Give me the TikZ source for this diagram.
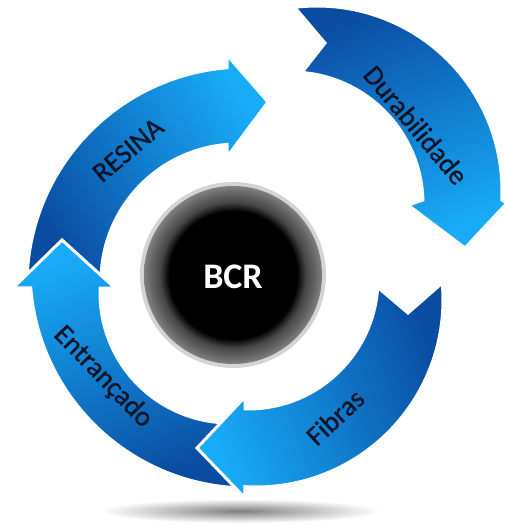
\documentclass[tikz,border=0pt]{standalone}
\usepackage{fontspec}
\setmainfont{Carlito}
\newfontfamily\lblfont{Carlito}[FakeBold=0.9]
\usetikzlibrary{calc}
\definecolor{bbright}{RGB}{24,172,248}
\definecolor{bdark}{RGB}{10,76,162}
\definecolor{txtc}{RGB}{10,20,38}
\definecolor{ringdk}{RGB}{70,70,70}
\definecolor{ringmd}{RGB}{100,100,100}
\definecolor{ringlt}{RGB}{128,128,128}
\definecolor{rimc}{RGB}{212,212,212}
\pgfdeclareradialshading{ringshade}{\pgfpoint{0bp}{0bp}}{color(0bp)=(black); color(18bp)=(black); color(20.5bp)=(ringdk); color(23bp)=(ringmd); color(25bp)=(ringlt); color(50bp)=(ringlt)}
\tikzset{
  arrowshape/.style={draw=white, line width=3pt, line join=miter},
  lbl/.style={text=txtc, font=\lblfont\fontsize{28}{30}\selectfont, inner sep=0pt},
}
\begin{document}
\begin{tikzpicture}[x=1pt,y=-1pt]
\useasboundingbox (0,0) rectangle (504,524);
% shadow
\shade[inner color=black!50, outer color=white] (240,511) ellipse[x radius=140, y radius=12];
% Durabilidade
\path[arrowshape, top color=bbright, bottom color=bdark, shading angle=-160]
  ($(317,191)+(263.1:185)$) arc[start angle=263.1, end angle=362.8, radius=185]
  -- (507,203) -- (465,248) -- (408,205)
  -- ($(291,204)+(358.3:132)$) arc[start angle=358.3, end angle=274.8, radius=132]
  -- (325,43) -- cycle;
% RESINA
\path[arrowshape, top color=bbright, bottom color=bdark, shading angle=-60]
  ($(245,285)+(180:218)$) arc[start angle=180, end angle=265.3, radius=218]
  -- (227,55) -- (268,102) -- (227,157)
  -- ($(238,281)+(265.4:137)$) arc[start angle=265.4, end angle=180, radius=137] -- cycle;
% Entrancado
\path[arrowshape, top color=bbright, bottom color=bdark, shading angle=20]
  ($(248,270)+(94:218)$) arc[start angle=94, end angle=175.3, radius=218]
  -- (13,288) -- (62,240) -- (115,288)
  -- ($(230,293)+(182.2:130)$) arc[start angle=182.2, end angle=88, radius=130] -- cycle;
% Fibras
\path[arrowshape, top color=bbright, bottom color=bdark, shading angle=110]
  ($(256,300)+(-5.2:187)$) arc[start angle=-5.2, end angle=93.4, radius=187]
  -- (245,498) -- (197,448) -- (245,397)
  -- ($(248,279)+(91.3:130)$) arc[start angle=91.3, end angle=3.7, radius=130]
  -- (408,313) -- cycle;
% labels
\node[lbl, rotate=40] (resina) at (128,150) {RESINA};
\node[lbl, rotate=-50] (dura) at (416,125) {Durabilidade};
\node[lbl, rotate=-46] (entr) at (103,377) {Entrançado};
\node[lbl, rotate=43] (fib) at (335,417) {Fibras};
% centre
\fill[rimc] (233,275) circle[radius=93];
\shade[shading=ringshade] (233,275) circle[radius=89];
\node[text=white, font=\bfseries\fontsize{36}{40}\selectfont] (bcr) at (233,277) {BCR};
\end{tikzpicture}
\end{document}
